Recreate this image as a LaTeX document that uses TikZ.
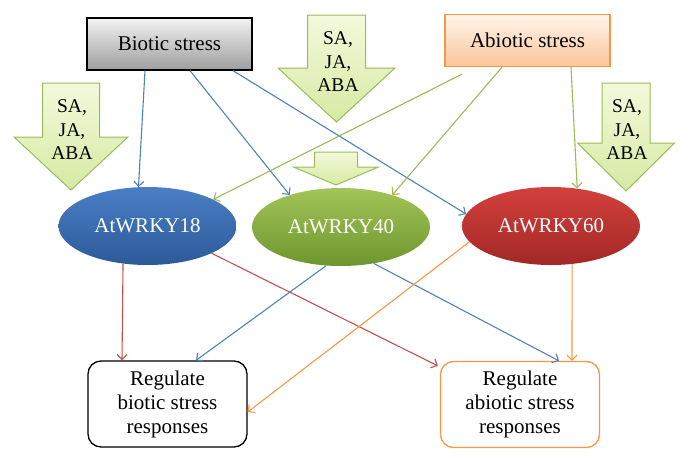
\documentclass[tikz,border=0pt]{standalone}
\usepackage{fontspec}
\setmainfont{Liberation Serif}
\usetikzlibrary{positioning}
\usetikzlibrary{arrows.meta,shapes.geometric}
\usetikzlibrary{calc}
\definecolor{lineblue}{HTML}{4F81BD}
\definecolor{linegreen}{HTML}{9BBB59}
\definecolor{linered}{HTML}{C0504D}
\definecolor{lineorange}{HTML}{F79646}
\definecolor{topblue}{HTML}{4A7FC6}
\definecolor{botblue}{HTML}{2C5A98}
\definecolor{topgreen}{HTML}{A2C458}
\definecolor{botgreen}{HTML}{6E962E}
\definecolor{topred}{HTML}{D4403C}
\definecolor{botred}{HTML}{A12826}
\definecolor{toparrow}{HTML}{F3F9DC}
\definecolor{botarrow}{HTML}{D6EAA2}
\tikzstyle{stressbox}=[rectangle,minimum width=165pt,minimum height=52pt,inner sep=0pt,line width=1.3pt,font=\fontsize{21}{25}\selectfont]
\tikzstyle{gene}=[ellipse,minimum width=178pt,minimum height=78pt,inner sep=0pt,text=white,font=\fontsize{21}{25}\selectfont]
\tikzstyle{outbox}=[rectangle,rounded corners=13pt,draw,line width=1.3pt,minimum width=159pt,minimum height=86pt,align=center,font=\fontsize{21}{24}\selectfont]
\tikzstyle{hormone}=[draw=linegreen,line width=1pt,top color=toparrow,bottom color=botarrow]
\tikzstyle{hormonetext}=[align=center,font=\fontsize{19.5}{23.5}\selectfont]
\tikzstyle{edge} = [draw,line width=1.1pt,-{Straight Barb[length=5pt,width=10pt]}]

\begin{document}
\begin{tikzpicture}[x=1pt, y=-1pt]
    \useasboundingbox (0,0) rectangle (689,461);

    % First the hormone arrows in the background
    \foreach \cx/\top/\sw/\hy/\hw/\tip in {71/83/28.5/137/57/190, 336.5/15/29/68/58.5/122, 626/83/24/143/48.5/191, 336/152/21.5/167/42.5/185}
        \path[hormone] (\cx-\sw,\top) -- (\cx+\sw,\top) -- (\cx+\sw,\hy) -- (\cx+\hw,\hy)
            -- (\cx,\tip) -- (\cx-\hw,\hy) -- (\cx-\sw,\hy) -- cycle;

    \foreach \pos/\name in {{(72,130)/hleft}, {(338,62)/hmid}, {(627,130)/hright}}
        \node[hormonetext] (\name) at \pos {SA,\\JA,\\ABA};

    % Stress boxes
    \node[stressbox, draw=black, top color=white!95!black, bottom color=black!38] (bio) at (169.5,44) {Biotic stress};
    \node[stressbox, draw=lineorange, top color=orange!8, bottom color=lineorange!55] (abio) at (527.5,40.5) {Abiotic stress};

    % The three genes
    \foreach \pos/\name/\label/\col in {{(147.5,226)/w18/AtWRKY18/blue}, {(341,227)/w40/AtWRKY40/green}, {(551,226)/w60/AtWRKY60/red}}
        \node[gene, top color=top\col, bottom color=bot\col] (\name) at \pos {\label};

    % Responses
    \node[outbox, draw=black] (rbio) at (167.5,404) {Regulate\\biotic stress\\responses};
    \node[outbox, draw=lineorange] (rabio) at (520,404.5) {Regulate\\abiotic stress\\responses};

    % Connect stresses to genes
    \foreach \source/\sx/\sy/\dest/\col in {bio.south/-24.5/0/w18.103/lineblue, bio.south/20.5/0/w40.148/lineblue, bio.south/63.5/0/w60.172/lineblue,
                                            abio.south/-65.5/-7/w18.22/linegreen, abio.south/-25.5/0/w40.32/linegreen, abio.south/43.5/0/w60.55/linegreen}
        \path[edge, \col] ([xshift=\sx pt, yshift=\sy pt]\source) -- (\dest);

    % Connect genes to responses
    \foreach \source/\dest/\dx/\dy/\col in {w18.-123/rbio.north/-45.5/0/linered, w18.-23/rabio.north west/-2/-5/linered,
                                            w40.-111/rbio.north/28.5/0/lineblue, w40.-48/rabio.north/39/0/lineblue,
                                            w60.191/rbio.east/0/-8/lineorange, w60.-61/rabio.north/52/0/lineorange}
        \path[edge, \col] (\source) -- ([xshift=\dx pt, yshift=\dy pt]\dest);

\end{tikzpicture}
\end{document}
